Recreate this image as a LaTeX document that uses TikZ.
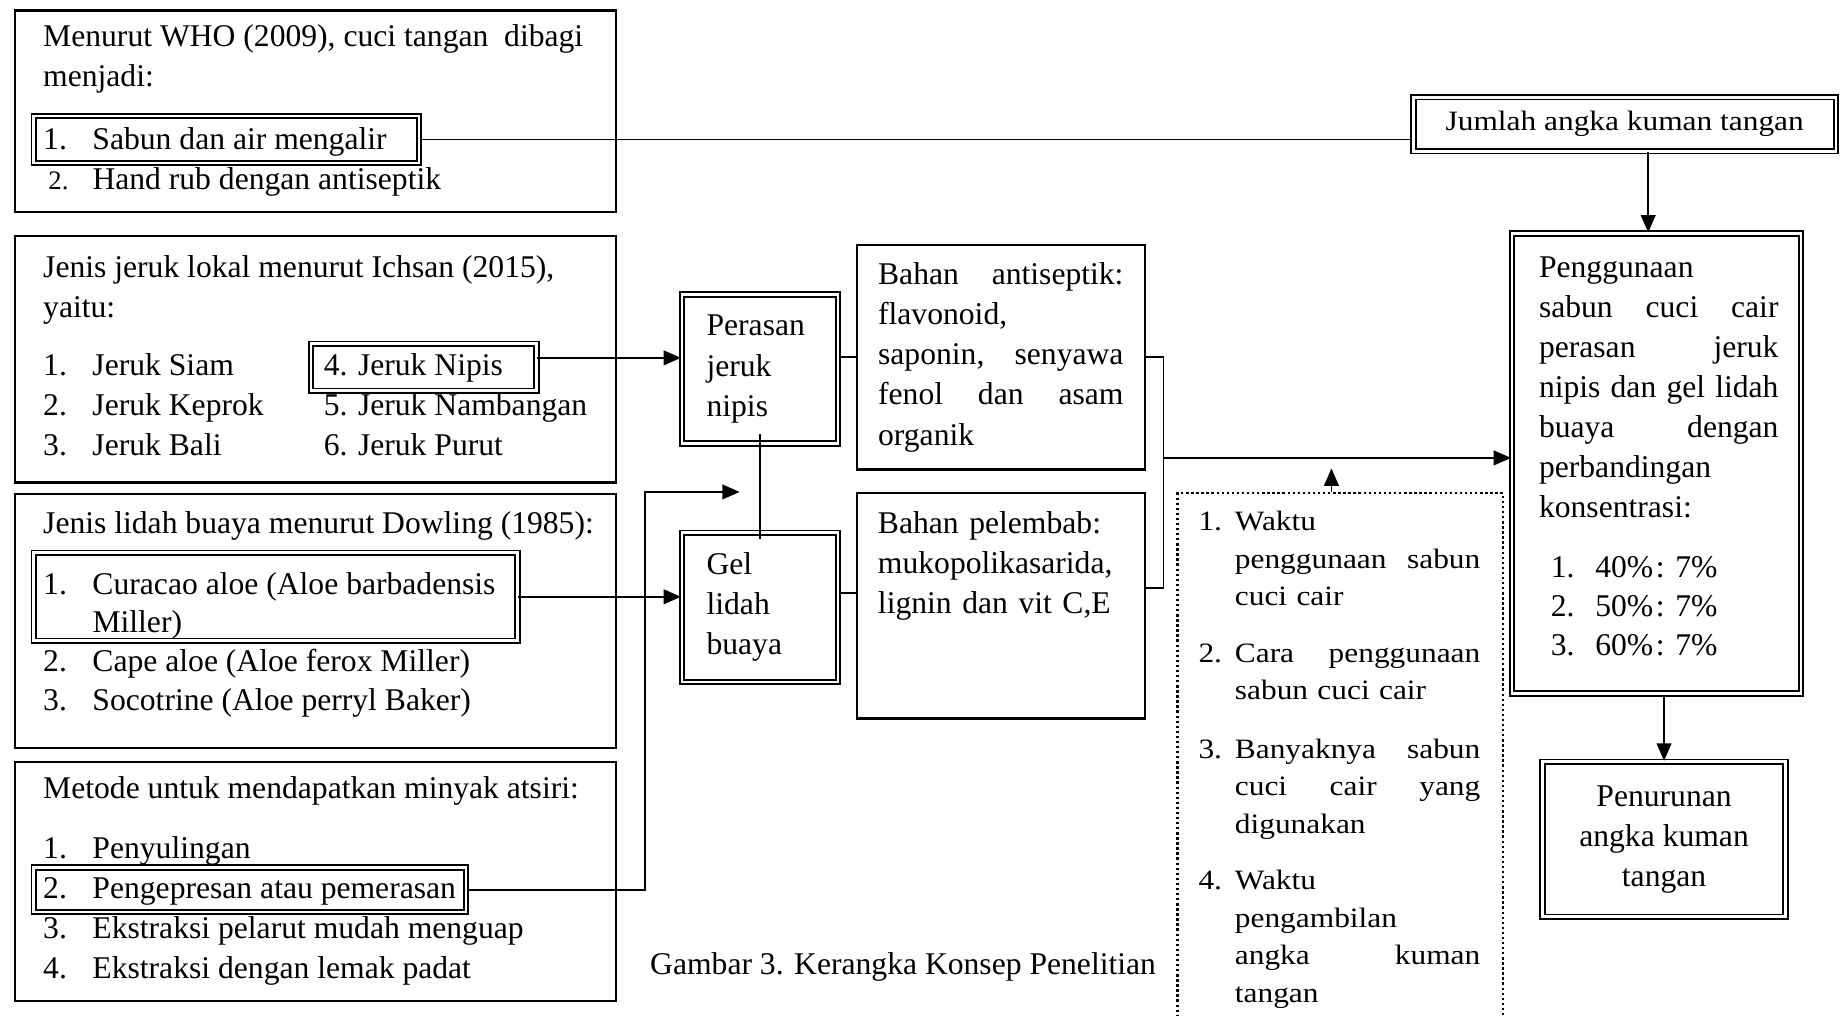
\documentclass[tikz,border=0pt]{standalone}
\usepackage{fontspec}
\setmainfont{Liberation Serif}
\newfontfamily\widefont[FakeStretch=1.12]{Liberation Serif}
\usetikzlibrary{arrows.meta}
\newlength\unitpx
\setlength\unitpx{0.44pt}
\newcommand\tnr{\fontsize{11.85}{15}\selectfont}
\newcommand\wde{\widefont\fontsize{10.5}{14}\selectfont}
\newcommand\li[2]{\makebox[42\unitpx][l]{#1}#2}
\tikzset{
  box/.style={draw, line width=0.8pt, anchor=north west, inner sep=0pt},
  dbox/.style={draw, double, double distance=1pt, line width=0.7pt, anchor=north west, inner sep=0pt},
  dotbox/.style={draw, densely dotted, line width=0.9pt, anchor=north west, inner sep=0pt},
  wh/.style 2 args={minimum width=#1\unitpx, minimum height=#2\unitpx},
  txt/.style={anchor=base west, inner sep=0pt, font=\tnr},
  wtxt/.style={anchor=base west, inner sep=0pt, font=\wde, text width=#1\unitpx, align=left},
}
\begin{document}
\begin{tikzpicture}[x=\unitpx, y=-\unitpx, >={Triangle[length=6.5pt,width=5.5pt]}, line width=0.7pt]
  \useasboundingbox (0,0) rectangle (1568,865);
  \clip (0,0) rectangle (1568,865);
  \node[box, wh={512}{172}] (who) at (12,8) {};
  \node[txt] (whoa) at (36,40) {Menurut WHO (2009), cuci tangan\ \ dibagi};
  \node[txt] (whob) at (36,74) {menjadi:};
  \node[dbox, wh={328}{40}] (sabun) at (28,98) {};
  \node[txt] (sabunt) at (36,127) {\li{1.}{Sabun dan air mengalir}};
  \node[txt] (handrub) at (36,161) {\li{\,\fontsize{10}{12}\selectfont 2.}{Hand rub dengan antiseptik}};

  \node[box, wh={512}{210}] (jeruk) at (12,200) {};
  \node[txt] (jeruka) at (36,236) {Jenis jeruk lokal menurut Ichsan (2015),};
  \node[txt] (jerukb) at (36,270) {yaitu:};
  \foreach \t [count=\i] in {Jeruk Siam, Jeruk Keprok, Jeruk Bali}
    \node[txt] (jl\i) at (36,286+34*\i) {\li{\i.}{\t}};
  \foreach \t [count=\i from 4] in {Jeruk Nipis, Jeruk Nambangan, Jeruk Purut}
    \node[txt] (jr\i) at (275,184+34*\i) {\i. \t};
  \node[dbox, wh={192}{40}] (nipis) at (264,292) {};

  \node[box, wh={512}{216}] (lidah) at (12,420) {};
  \node[txt] (lidaha) at (36,454) {Jenis lidah buaya menurut Dowling (1985):};
  \node[dbox, wh={412}{75}] (curacao) at (28,470) {};
  \node[txt] (curacaot) at (36,506) {\li{1.}{Curacao aloe (Aloe barbadensis}};
  \node[txt] (miller) at (78,539) {Miller)};
  \node[txt] (cape) at (36,572) {\li{2.}{Cape aloe (Aloe ferox Miller)}};
  \node[txt] (soco) at (36,605) {\li{3.}{Socotrine (Aloe perryl Baker)}};

  \node[box, wh={512}{204}] (metode) at (12,648) {};
  \node[txt] (metodea) at (36,680) {Metode untuk mendapatkan minyak atsiri:};
  \node[dbox, wh={368}{38}] (press) at (28,738) {};
  \foreach \t [count=\i] in {Penyulingan, Pengepresan atau pemerasan, Ekstraksi pelarut mudah menguap, Ekstraksi dengan lemak padat}
    \node[txt] (mt\i) at (36,697+34*\i) {\li{\i.}{\t}};

  \node[dbox, wh={133}{127}, text width=91\unitpx, align=left, font=\tnr] (perasan) at (580,250) {Perasan\\jeruk\\nipis};
  \node[dbox, wh={133}{127}, text width=91\unitpx, align=left, font=\tnr] (gel) at (580,453) {Gel\\lidah\\buaya};
  \node[box, wh={245}{191}, text width=209\unitpx, align=left, font=\tnr] (antiseptik) at (729,208) {Bahan\hfill antiseptik:\\flavonoid,\\saponin,\hfill senyawa\\fenol\hfill dan\hfill asam\\organik};
  \node[box, wh={245}{192}] (pelembab) at (729,419) {};
  \node[txt, text width=209\unitpx, align=left] (pelembabt) at (747,454) {Bahan pelembab:\\mukopolikasarida,\\lignin dan vit C,E};
  \node[txt] (caption) at (553,830) {Gambar 3. Kerangka Konsep Penelitian};

  \node[dotbox, wh={277}{470}] (faktor) at (1002,419) {};
  \foreach \y/\t [count=\i] in {452/{Waktu\\penggunaan\hfill sabun\\cuci cair}, 564/{Cara\hfill penggunaan\\sabun cuci cair}, 646/{Banyaknya\hfill sabun\\cuci\hfill cair\hfill yang\\digunakan}, 758/{Waktu\\pengambilan\\angka\hfill kuman\\tangan}}{
    \node[txt, font=\wde] (num\i) at (1020,\y) {\i.};
    \node[wtxt=209] (f\i) at (1051,\y) {\t};
  }

  \node[dbox, wh={360}{46}, font=\wde] (jumlah) at (1203,82) {Jumlah angka kuman tangan};
  \node[dbox, wh={246}{392}] (pengg) at (1287,198) {};
  \node[txt, text width=204\unitpx, align=left] (penggt) at (1310,236) {Penggunaan\\sabun\hfill cuci\hfill cair\\perasan\hfill jeruk\\nipis\hfill dan\hfill gel\hfill lidah\\buaya\hfill dengan\\perbandingan\\konsentrasi:};
  \foreach \p [count=\i] in {40,50,60}
    \node[txt] (pk\i) at (1320,458+33.5*\i) {\makebox[38\unitpx][l]{\i.}\p\%\kern1pt: 7\%};
  \node[dbox, wh={207}{132}, align=center, font=\tnr] (penurunan) at (1313,648) {Penurunan\\angka kuman\\tangan};

  \draw (sabun.east) -- (sabun.east -| jumlah.west);
  \coordinate (nipisout) at ([yshift=8\unitpx]nipis.east);
  \draw[->] (nipisout) -- (nipisout -| perasan.west);
  \draw[->] (curacao.east) -- (curacao.east -| gel.west);
  \coordinate (bend) at (549,419);
  \coordinate (tip) at (630,419);
  \draw[->] (press.east) -| (bend) -- (tip);
  \draw[shorten <=-9\unitpx, shorten >=-6\unitpx] (perasan.south) -- (gel.north);
  \draw (antiseptik.west -| perasan.east) -- (antiseptik.west);
  \coordinate (gelout) at ([yshift=12\unitpx]gel.east);
  \draw (gelout) -- (gelout -| pelembab.west);
  \coordinate (join) at (991,390);
  \draw (antiseptik.east) -| (join);
  \coordinate (pelout) at ([yshift=15\unitpx]pelembab.east);
  \draw (pelout) -| (join);
  \draw[->] (join) -- (join -| pengg.west);
  \coordinate (ftip) at (1134,399);
  \draw[->] (faktor.north -| ftip) -- (ftip);
  \coordinate (jout) at ([xshift=20\unitpx]jumlah.south);
  \draw[->] (jout) -- (jout |- pengg.north);
  \draw[->] (pengg.south -| penurunan.north) -- (penurunan.north);
\end{tikzpicture}
\end{document}
